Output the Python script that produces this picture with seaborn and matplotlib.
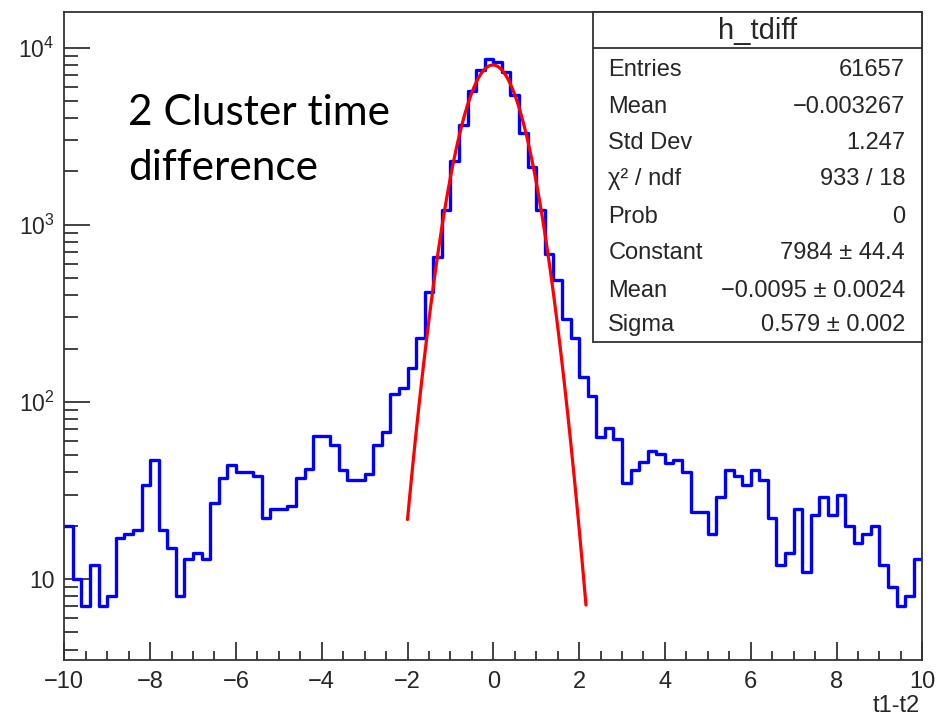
import numpy as np
import pandas as pd
import matplotlib
matplotlib.use("Agg")
import matplotlib.pyplot as plt
import seaborn as sns
from matplotlib.ticker import FixedLocator, FixedFormatter, MultipleLocator, LogLocator, NullFormatter
from matplotlib.patches import Rectangle
from matplotlib.lines import Line2D

# ---------------- data ----------------
x_min, x_max, n_bins = -10.0, 10.0, 100
counts = [
    20, 10, 7, 12, 7, 8, 17, 18, 19, 34,
    47, 19, 15, 8, 13, 14, 13, 27, 37, 44,
    40, 40, 38, 22, 25, 25, 26, 37, 42, 64,
    64, 57, 41, 36, 36, 39, 57, 68, 111, 120,
    155, 230, 417, 662, 1216, 2280, 3673, 5690, 7516, 8590,
    8300, 7300, 5420, 3311, 2120, 1205, 686, 489, 294, 230,
    139, 108, 63, 71, 62, 35, 41, 46, 53, 51,
    45, 47, 40, 24, 24, 18, 29, 41, 38, 34,
    41, 36, 22, 12, 14, 25, 11, 23, 29, 23,
    30, 20, 16, 18, 20, 12, 9, 7, 8, 13,
]
fit_constant = 7984.0
fit_mean = -0.0095
fit_sigma = 0.579
fit_range = (-2.0, 2.16)

stats_title = "h_tdiff"
stats_labels = ["Entries", "Mean", "Std Dev", "χ² / ndf", "Prob",
                "Constant", "Mean", "Sigma"]
stats_values = ["61657", "\u22120.003267", "1.247", "933 / 18", "0",
                "7984 \u00b1 44.4", "\u22120.0095 \u00b1 0.0024", "0.579 \u00b1 0.002"]

annotation_lines = ["2 Cluster time", "difference"]
x_label = "t1-t2"
x_ticks = [-10, -8, -6, -4, -2, 0, 2, 4, 6, 8, 10]
x_tick_labels = ["\u221210", "\u22128", "\u22126", "\u22124", "\u22122",
                 "0", "2", "4", "6", "8", "10"]
y_ticks = [10, 100, 1000, 10000]
y_tick_labels = ["10", "$10^{2}$", "$10^{3}$", "$10^{4}$"]

# ---------------- style ----------------
sns.set_style("white")
plt.rcParams["font.family"] = ["Liberation Sans", "DejaVu Sans"]
plt.rcParams["mathtext.fontset"] = "custom"
plt.rcParams["mathtext.rm"] = "Liberation Sans"
plt.rcParams["mathtext.it"] = "Liberation Sans:italic"
plt.rcParams["mathtext.default"] = "regular"

W, H = 941, 719
fig = plt.figure(figsize=(W / 100, H / 100), dpi=100)
fig.patch.set_facecolor("white")

def fx(x):
    return x / W

def fy(y):
    return 1 - y / H

ax_left, ax_right, ax_top, ax_bottom = 64.3, 922.3, 11.7, 660.0
ax = fig.add_axes([fx(ax_left), fy(ax_bottom), fx(ax_right) - fx(ax_left),
                   fy(ax_top) - fy(ax_bottom)])

edges = np.linspace(x_min, x_max, n_bins + 1)
centers = 0.5 * (edges[:-1] + edges[1:])
df = pd.DataFrame({"t": centers, "n": counts})

sns.histplot(data=df, x="t", weights="n", bins=n_bins, binrange=(x_min, x_max),
             element="step", fill=False, color="#0000ff", linewidth=2.4, ax=ax)

x_fit = np.linspace(fit_range[0], fit_range[1], 100)
y_fit = fit_constant * np.exp(-0.5 * ((x_fit - fit_mean) / fit_sigma) ** 2)
sns.lineplot(x=x_fit, y=y_fit, color="#ff0000", linewidth=2.3, ax=ax,
             estimator=None, sort=False)

ax.set_yscale("log")
ax.set_xlim(x_min, x_max)
ax.set_ylim(3.49, 15960)
ax.set_xlabel("")
ax.set_ylabel("")

for s in ax.spines.values():
    s.set_visible(True)
    s.set_color("#333333")
    s.set_linewidth(1.3)

ax.xaxis.set_major_locator(FixedLocator(x_ticks))
ax.xaxis.set_major_formatter(FixedFormatter(x_tick_labels))
ax.xaxis.set_minor_locator(MultipleLocator(0.5))
ax.yaxis.set_major_locator(FixedLocator(y_ticks))
ax.yaxis.set_major_formatter(FixedFormatter(y_tick_labels))
ax.yaxis.set_minor_locator(LogLocator(base=10, subs=np.arange(2, 10)))
ax.yaxis.set_minor_formatter(NullFormatter())

ax.tick_params(axis="x", which="major", direction="in", length=13, width=1.3,
               color="#333333", labelsize=17, pad=8, bottom=True, top=False)
ax.tick_params(axis="x", which="minor", direction="in", length=6.5, width=1.3,
               color="#333333", bottom=True, top=False)
ax.tick_params(axis="y", which="major", direction="in", length=18.5, width=1.3,
               color="#333333", labelsize=16.5, pad=7, left=True, right=False)
ax.tick_params(axis="y", which="minor", direction="in", length=10, width=1.3,
               color="#333333", left=True, right=False)
ax.grid(False)

# x axis title
fig.text(fx(920), fy(711.5), x_label, ha="right", va="baseline", fontsize=17)

# annotation (Calibri-like)
ann_baselines = [125, 180]
for line, yb in zip(annotation_lines, ann_baselines):
    fig.text(fx(128), fy(yb), line, ha="left", va="baseline",
             fontsize=30.5, family=["Lato", "DejaVu Sans"], color="black")

# stats box
bx0, bx1, by0, by1, bdiv = 592.7, 922.3, 11.7, 342.3, 48.3
fig.patches.append(Rectangle((fx(bx0), fy(by1)), fx(bx1) - fx(bx0), fy(by0) - fy(by1),
                             transform=fig.transFigure, facecolor="white",
                             edgecolor="#333333", linewidth=1.3, zorder=5))
fig.lines.append(Line2D([fx(bx0), fx(bx1)], [fy(bdiv), fy(bdiv)],
                        transform=fig.transFigure, color="#333333",
                        linewidth=1.3, zorder=6))
fig.text(fx(758), fy(39.3), stats_title, ha="center", va="baseline",
         fontsize=21, zorder=7)
row_baselines = [75.7, 113.3, 149.3, 185.0, 223.3, 259.3, 297.3, 330.7]
for lab, val, yb in zip(stats_labels, stats_values, row_baselines):
    fig.text(fx(608.3), fy(yb), lab, ha="left", va="baseline", fontsize=17, zorder=7)
    fig.text(fx(905), fy(yb), val, ha="right", va="baseline", fontsize=17, zorder=7)

fig.savefig("out.png", dpi=100)
